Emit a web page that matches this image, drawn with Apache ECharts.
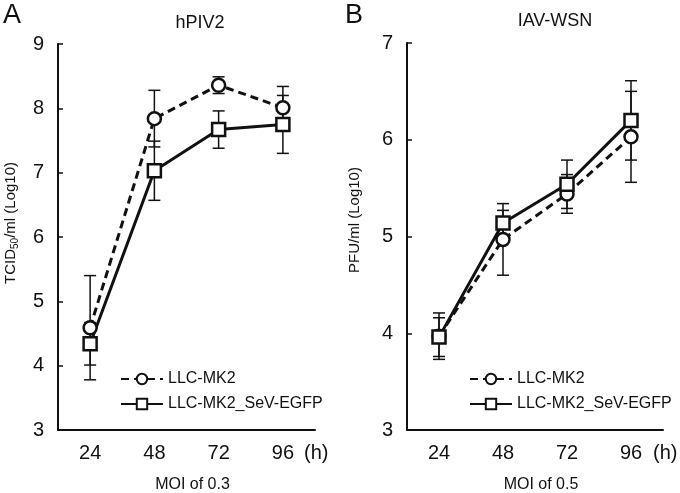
<!DOCTYPE html>
<html>
<head>
<meta charset="utf-8">
<script src="https://cdn.jsdelivr.net/npm/echarts@6/dist/echarts.min.js"></script>
<style>
html,body{margin:0;padding:0;background:#fff;}
#chart{width:680px;height:493px;}
</style>
</head>
<body>
<div id="chart"></div>
<script>
// ---- data ----
const hours = ['24', '48', '72', '96'];
const seriesNames = ['LLC-MK2', 'LLC-MK2_SeV-EGFP'];

// Panel A: hPIV2 (TCID50/ml, Log10)
const aMk2 = [4.59, 7.84, 8.36, 8.01];
const aMk2Err = [0.81, 0.44, 0.13, 0.33];
const aSev = [4.34, 7.03, 7.67, 7.75];
const aSevErr = [0.33, 0.46, 0.29, 0.45];

// Panel B: IAV-WSN (PFU/ml, Log10)
const bMk2 = [3.97, 4.97, 5.44, 6.03];
const bMk2Err = [0.24, 0.37, 0.20, 0.47];
const bSev = [3.96, 5.14, 5.54, 6.20];
const bSevErr = [0.20, 0.13, 0.25, 0.41];

const aTicks = [3, 9, 1];
const bTicks = [3, 7, 1];

// ---- styling ----
const FONT = "'Liberation Sans', Arial, Helvetica, sans-serif";
const INK = '#111';

function errData(vals, errs) {
  return vals.map((v, i) => [i, v - errs[i], v + errs[i]]);
}
function errSeries(idx, vals, errs) {
  return {
    type: 'custom',
    xAxisIndex: idx, yAxisIndex: idx,
    z: 1,
    silent: true,
    data: errData(vals, errs),
    encode: { x: 0, y: [1, 2] },
    renderItem: function (params, api) {
      const x = api.value(0);
      const lo = api.coord([x, api.value(1)]);
      const hi = api.coord([x, api.value(2)]);
      const w = 6;
      const st = { stroke: INK, lineWidth: 1.5 };
      return {
        type: 'group',
        children: [
          { type: 'line', shape: { x1: lo[0], y1: lo[1], x2: hi[0], y2: hi[1] }, style: st },
          { type: 'line', shape: { x1: lo[0] - w, y1: lo[1], x2: lo[0] + w, y2: lo[1] }, style: st },
          { type: 'line', shape: { x1: hi[0] - w, y1: hi[1], x2: hi[0] + w, y2: hi[1] }, style: st }
        ]
      };
    }
  };
}
function lineSeries(idx, name, vals, dashed, symbol) {
  return {
    type: 'line',
    name: name,
    xAxisIndex: idx, yAxisIndex: idx,
    z: 3,
    data: vals,
    symbol: symbol,
    symbolSize: 13,
    showAllSymbol: true,
    lineStyle: { color: INK, width: 3, type: dashed ? [8, 5] : 'solid' },
    itemStyle: { color: '#fff', borderColor: INK, borderWidth: 2.5 },
    emphasis: { disabled: true },
    animation: false
  };
}
function xAxis(idx, name) {
  return {
    type: 'category',
    gridIndex: idx,
    data: hours,
    boundaryGap: true,
    axisLine: { lineStyle: { color: INK, width: 2 } },
    axisTick: { alignWithLabel: true, inside: true, length: 9, lineStyle: { color: INK, width: 1.5 } },
    axisLabel: { color: INK, fontSize: 20, fontFamily: FONT, margin: 13 },
    name: name,
    nameLocation: 'middle',
    nameGap: 47,
    nameTextStyle: { color: INK, fontSize: 16, fontFamily: FONT, padding: [0, 0, 0, 12] }
  };
}
function yAxis(idx, t) {
  return {
    type: 'value',
    gridIndex: idx,
    min: t[0], max: t[1], interval: t[2],
    splitLine: { show: false },
    axisLine: { show: true, lineStyle: { color: INK, width: 2 } },
    axisTick: { show: true, inside: true, length: 5, lineStyle: { color: INK, width: 1.5 } },
    axisLabel: { color: INK, fontSize: 20, fontFamily: FONT, margin: 14 }
  };
}
function legend(left, top) {
  return {
    orient: 'vertical',
    left: left, top: top,
    itemWidth: 42, itemHeight: 13, itemGap: 9,
    selectedMode: false,
    data: seriesNames,
    textStyle: { color: INK, fontSize: 16, fontFamily: FONT }
  };
}

const chart = echarts.init(document.getElementById('chart'), null, { renderer: 'canvas' });
const option = {
  backgroundColor: '#fff',
  animation: false,
  grid: [
    { left: 58, top: 44, width: 257, height: 386, containLabel: false, outerBoundsMode: 'none' },
    { left: 407, top: 43, width: 256, height: 387, containLabel: false, outerBoundsMode: 'none' }
  ],
  xAxis: [xAxis(0, 'MOI of 0.3'), xAxis(1, 'MOI of 0.5')],
  yAxis: [yAxis(0, aTicks), yAxis(1, bTicks)],
  legend: [legend(115, 366), legend(464, 366)],
  series: [
    errSeries(0, aMk2, aMk2Err),
    errSeries(0, aSev, aSevErr),
    lineSeries(0, seriesNames[0], aMk2, true, 'circle'),
    lineSeries(0, seriesNames[1], aSev, false, 'rect'),
    errSeries(1, bMk2, bMk2Err),
    errSeries(1, bSev, bSevErr),
    lineSeries(1, seriesNames[0], bMk2, true, 'circle'),
    lineSeries(1, seriesNames[1], bSev, false, 'rect')
  ],
  graphic: [
    { type: 'text', left: 3, top: 2, style: { text: 'A', fontSize: 27, fontFamily: FONT, fill: INK } },
    { type: 'text', left: 345, top: 2, style: { text: 'B', fontSize: 27, fontFamily: FONT, fill: INK } },
    { type: 'text', x: 200, y: 23, style: { text: 'hPIV2', fontSize: 18, fontFamily: FONT, fill: INK, align: 'center', verticalAlign: 'middle' } },
    { type: 'text', x: 555, y: 21, style: { text: 'IAV-WSN', fontSize: 18, fontFamily: FONT, fill: INK, align: 'center', verticalAlign: 'middle' } },
    { type: 'text', x: 304, y: 453, style: { text: '(h)', fontSize: 20, fontFamily: FONT, fill: INK, align: 'left', verticalAlign: 'middle' } },
    { type: 'text', x: 653, y: 453, style: { text: '(h)', fontSize: 20, fontFamily: FONT, fill: INK, align: 'left', verticalAlign: 'middle' } },
    {
      type: 'text', x: 11, y: 223, rotation: Math.PI / 2,
      style: {
        text: '{a|TCID}{s|50}{a|/ml (Log10)}',
        align: 'center', verticalAlign: 'middle', fill: INK,
        rich: {
          a: { fontSize: 15, fontFamily: FONT, color: INK, lineHeight: 18, verticalAlign: 'middle' },
          s: { fontSize: 10, fontFamily: FONT, color: INK, lineHeight: 18, verticalAlign: 'bottom', padding: [7, 0, 0, 0] }
        }
      }
    },
    {
      type: 'text', x: 355, y: 220, rotation: Math.PI / 2,
      style: { text: 'PFU/ml (Log10)', fontSize: 15, fontFamily: FONT, fill: INK, align: 'center', verticalAlign: 'middle' }
    }
  ]
};
chart.setOption(option);
</script>
</body>
</html>
